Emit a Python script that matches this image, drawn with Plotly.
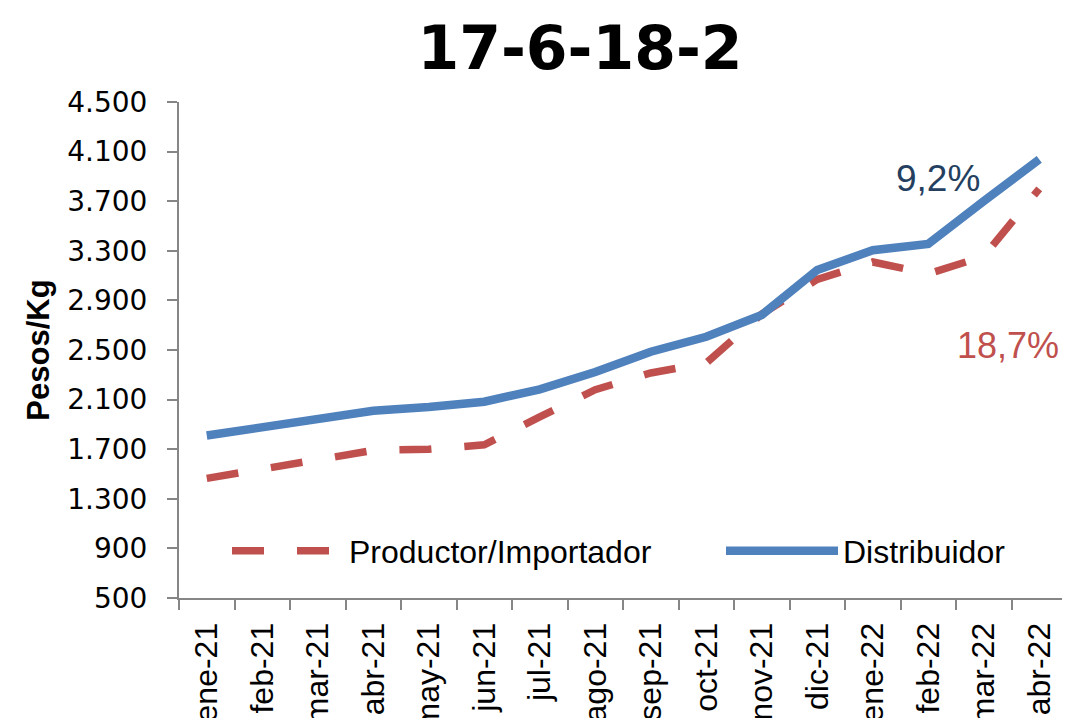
import plotly.graph_objects as go

months = ["ene-21", "feb-21", "mar-21", "abr-21", "may-21", "jun-21", "jul-21", "ago-21",
          "sep-21", "oct-21", "nov-21", "dic-21", "ene-22", "feb-22", "mar-22", "abr-22"]
productor = [1465, 1545, 1625, 1690, 1700, 1735, 1960, 2180,
             2315, 2395, 2790, 3070, 3210, 3115, 3255, 3800]
distribuidor = [1810, 1880, 1945, 2010, 2040, 2083, 2183, 2323,
                2486, 2607, 2782, 3145, 3305, 3355, 3700, 4038]
y_ticks = [500, 900, 1300, 1700, 2100, 2500, 2900, 3300, 3700, 4100, 4500]
y_tick_text = ["500", "900", "1.300", "1.700", "2.100", "2.500", "2.900",
               "3.300", "3.700", "4.100", "4.500"]

RED = "#C0504D"
BLUE = "#4F81BD"
AXIS = "#868686"
SANS = "Arial, Liberation Sans, sans-serif"

# page body adds an 8px offset; figure sized to fill the window exactly
W, H = 1062, 710
L, R, T, B = 171, 3, 94, 120
PW, PH = W - L - R, H - T - B

fig = go.Figure()
fig.add_trace(go.Scatter(
    x=months, y=productor, mode="lines", name="Productor/Importador",
    line=dict(color=RED, width=7.5, dash="32px,33px"), legend="legend",
))
fig.add_trace(go.Scatter(
    x=months, y=distribuidor, mode="lines", name="Distribuidor",
    line=dict(color=BLUE, width=8.5), legend="legend2",
))

legend_common = dict(orientation="h", yanchor="middle", xanchor="left",
                     y=(PH - (551 - 8 - T)) / PH,
                     font=dict(family=SANS, size=32, color="black"),
                     bgcolor="rgba(0,0,0,0)", itemwidth=112)

fig.update_layout(
    width=W, height=H,
    margin=dict(l=L, r=R, t=T, b=B, autoexpand=False),
    paper_bgcolor="white", plot_bgcolor="white",
    title=dict(text="<b>17-6-18-2</b>", x=572 / W, xanchor="center",
               y=1 - 40 / H, yanchor="middle",
               font=dict(family="DejaVu Sans, sans-serif", size=60, color="black")),
    showlegend=True,
    legend=dict(x=(227 - 8 - L) / PW, **legend_common),
    legend2=dict(x=(721 - 8 - L) / PW, **legend_common),
    annotations=[
        dict(text="9,2%", xref="paper", yref="paper",
             x=(938 - 8 - L) / PW, y=(PH - (178 - 8 - T)) / PH,
             xanchor="center", yanchor="middle", showarrow=False,
             font=dict(family=SANS, size=37, color="#243F60")),
        dict(text="18,7%", xref="paper", yref="paper",
             x=(1008 - 8 - L) / PW, y=(PH - (345 - 8 - T)) / PH,
             xanchor="center", yanchor="middle", showarrow=False,
             font=dict(family=SANS, size=36, color=RED)),
    ],
)

fig.update_xaxes(
    type="category", range=[-0.5, 15.5], showgrid=False, zeroline=False,
    showline=True, linecolor=AXIS, linewidth=2, automargin=False,
    ticks="outside", tickson="boundaries", ticklen=10, tickwidth=2, tickcolor=AXIS,
    tickangle=-90, ticklabelstandoff=10,
    tickfont=dict(family=SANS, size=32, color="black"),
)
fig.update_yaxes(
    range=[500, 4500], tickvals=y_ticks, ticktext=y_tick_text,
    showgrid=False, zeroline=False, automargin=False,
    showline=True, linecolor=AXIS, linewidth=2,
    ticks="outside", ticklen=10, tickwidth=2, tickcolor=AXIS,
    ticklabelstandoff=14,
    tickfont=dict(family="DejaVu Sans, sans-serif", size=28, color="black"),
    title=dict(text="<b>Pesos/Kg</b>", standoff=8,
               font=dict(family=SANS, size=31, color="black")),
)

fig.write_html("out.html")
